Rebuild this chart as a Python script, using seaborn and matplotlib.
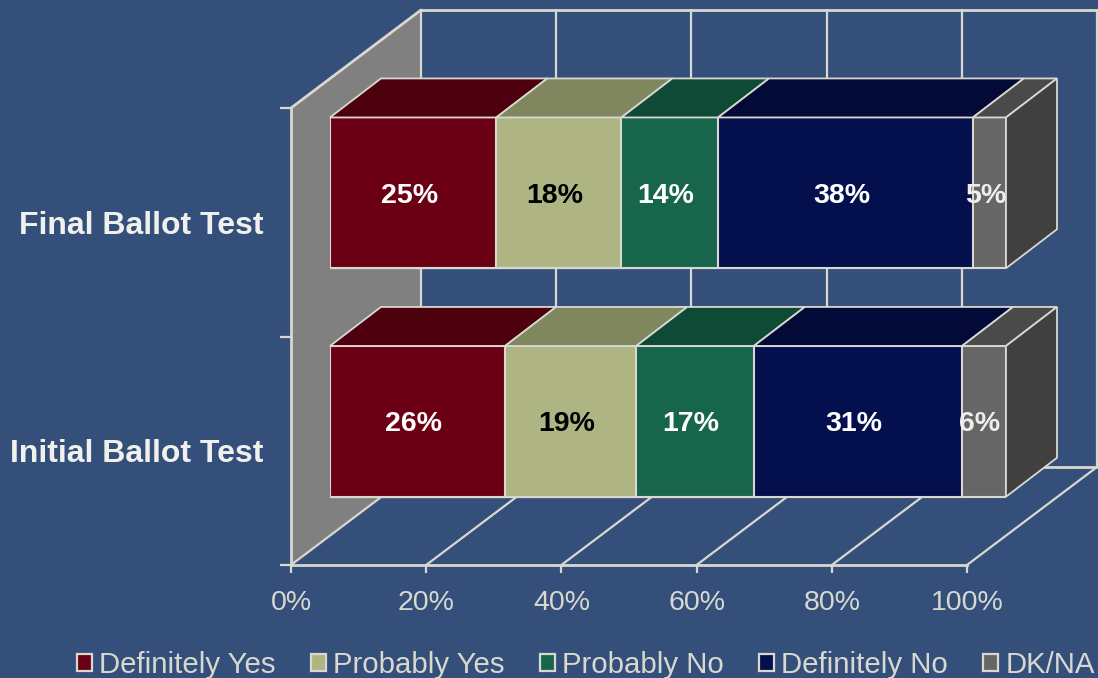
# 3D look stacked bars, faked with seaborn bars plus offset faces
import numpy as np
import pandas as pd
import seaborn as sns
import matplotlib.pyplot as plt
from matplotlib.patches import Patch

tests = ['Final Ballot Test', 'Initial Ballot Test']
answers = ['Definitely Yes', 'Probably Yes', 'Probably No', 'Definitely No', 'DK/NA']

# Widths, printed labels kept apart since they do not add to 100
final_share = [24.6, 18.5, 14.3, 37.7, 4.9]
initial_share = [25.9, 19.4, 17.4, 30.8, 6.5]
final_labels = ['25%', '18%', '14%', '38%', '5%']
initial_labels = ['26%', '19%', '17%', '31%', '6%']

front_colors = ['#6b0015', '#afb582', '#17654a', '#040f4d', '#666666']
top_colors = ['#4d000e', '#80875f', '#0f4a36', '#030a38', '#4a4a4a']
label_colors = ['white', 'black', 'white', 'white', '#eeeeee']
side_color = '#404040'
bg = '#34507a'
wall = '#808080'
line = '#d8d8d0'
ticks_x = [0, 20, 40, 60, 80, 100]

sns.set_theme(style='white', rc={'figure.facecolor': bg, 'axes.facecolor': bg,
                                 'savefig.facecolor': bg})
plt.rcParams['font.family'] = ['Liberation Sans', 'DejaVu Sans']

W, H = 1098, 678
x_px = 6.76    # pixels per percent
y_px = 228.5   # pixels per category
fig = plt.figure(figsize=(W / 100, H / 100), dpi=100)

# Main axes sit on the front plane of the chart box
ax = fig.add_axes([291 / W, 1 - 565 / H, 676 / W, 457 / H])
ax.set_xlim(0, 100)
ax.set_ylim(1.5, -0.5)
box_dx, box_dy = 130 / x_px, 98 / y_px

# Left wall and back wall
ax.fill([0, box_dx, box_dx, 0], [-0.5, -0.5 - box_dy, 1.5 - box_dy, 1.5],
        color=wall, clip_on=False, lw=0, zorder=1)
ax.plot([0, box_dx], [-0.5, -0.5 - box_dy], color=line, lw=2, clip_on=False, zorder=2)
ax.plot([box_dx, 100 + box_dx + 2], [-0.5 - box_dy] * 2, color=line, lw=2, clip_on=False, zorder=2)
ax.plot([box_dx, 100 + box_dx], [1.5 - box_dy] * 2, color=line, lw=2, clip_on=False, zorder=2)
for t in ticks_x:
    ax.plot([t + box_dx] * 2, [-0.5 - box_dy, 1.5 - box_dy], color=line, lw=1.6, clip_on=False, zorder=2)
    ax.plot([t, t + box_dx], [1.5, 1.5 - box_dy], color=line, lw=1.6, clip_on=False, zorder=2)

ax.set_xticks(ticks_x)
ax.set_xticklabels([f'{t}%' for t in ticks_x])
ax.set_yticks([-0.5, 0.5, 1.5])
ax.set_yticklabels([])
ax.set_yticks([0, 1], labels=tests, minor=True)
ax.tick_params(axis='x', colors=line, labelsize=20.5, length=6, width=1.6, pad=12, bottom=True)
ax.tick_params(axis='y', which='major', colors=line, length=8, width=1.6, left=True)
ax.tick_params(axis='y', which='minor', colors='#f0f0ec', labelsize=23, length=0, pad=20, left=False)
for lab in ax.get_yticklabels(minor=True):
    lab.set_fontweight('bold')
sns.despine(ax=ax)
for side in ['left', 'bottom']:
    ax.spines[side].set_color(line)
    ax.spines[side].set_linewidth(2)
    ax.spines[side].set_zorder(3)

# Long table with running totals, so tall bars get painted first and stack up
rows = []
for test, shares in zip(tests, [final_share, initial_share]):
    for answer, total in zip(answers, np.cumsum(shares)):
        rows.append({'test': test, 'answer': answer, 'total': total})
df = pd.DataFrame(rows)

# Bars live in a second axes shifted back into the box
shift_x, shift_y = 39, 29.4
bar_ax = fig.add_axes([(291 + shift_x) / W, 1 - (565 - shift_y) / H, 676 / W, 457 / H], zorder=5)
bar_ax.patch.set_alpha(0)
sns.barplot(data=df, y='test', x='total', hue='answer', order=tests,
            hue_order=answers[::-1], palette=dict(zip(answers, front_colors)),
            dodge=False, width=0.66, saturation=1, edgecolor=line, linewidth=1.5,
            legend=False, ax=bar_ax)
bar_ax.set_xlim(0, 100)
bar_ax.set_ylim(1.5, -0.5)
bar_ax.axis('off')

half = 0.33
dx, dy = 51 / x_px, 39 / y_px
for i, (shares, labels) in enumerate(zip([final_share, initial_share], [final_labels, initial_labels])):
    ends = np.cumsum(shares)
    starts = ends - np.array(shares)
    top = i - half
    bottom = i + half
    for s, e, c, lab, lc in zip(starts, ends, top_colors, labels, label_colors):
        bar_ax.fill([s, e, e + dx, s + dx], [top, top, top - dy, top - dy],
                    facecolor=c, edgecolor=line, lw=1.3, clip_on=False)
        bar_ax.annotate(lab, ((s + e) / 2, i), xytext=(-4, -3), textcoords='offset pixels',
                        ha='center', va='center', color=lc, fontsize=20.5, fontweight='bold',
                        zorder=6, annotation_clip=False)
    # End cap of the whole bar
    bar_ax.fill([ends[-1], ends[-1] + dx, ends[-1] + dx, ends[-1]],
                [top, top - dy, bottom - dy, bottom],
                facecolor=side_color, edgecolor=line, lw=1.3, clip_on=False)

handles = [Patch(facecolor=c, edgecolor=line, lw=1.6) for c in front_colors]
fig.legend(handles, answers, loc='center', bbox_to_anchor=(586 / W, 1 - 665 / H), ncol=5,
           frameon=False, fontsize=21.2, labelcolor=line, handlelength=0.5, handleheight=0.5,
           handletextpad=0.25, columnspacing=1.2, borderpad=0, borderaxespad=0)

fig.savefig('out.png', dpi=100)
